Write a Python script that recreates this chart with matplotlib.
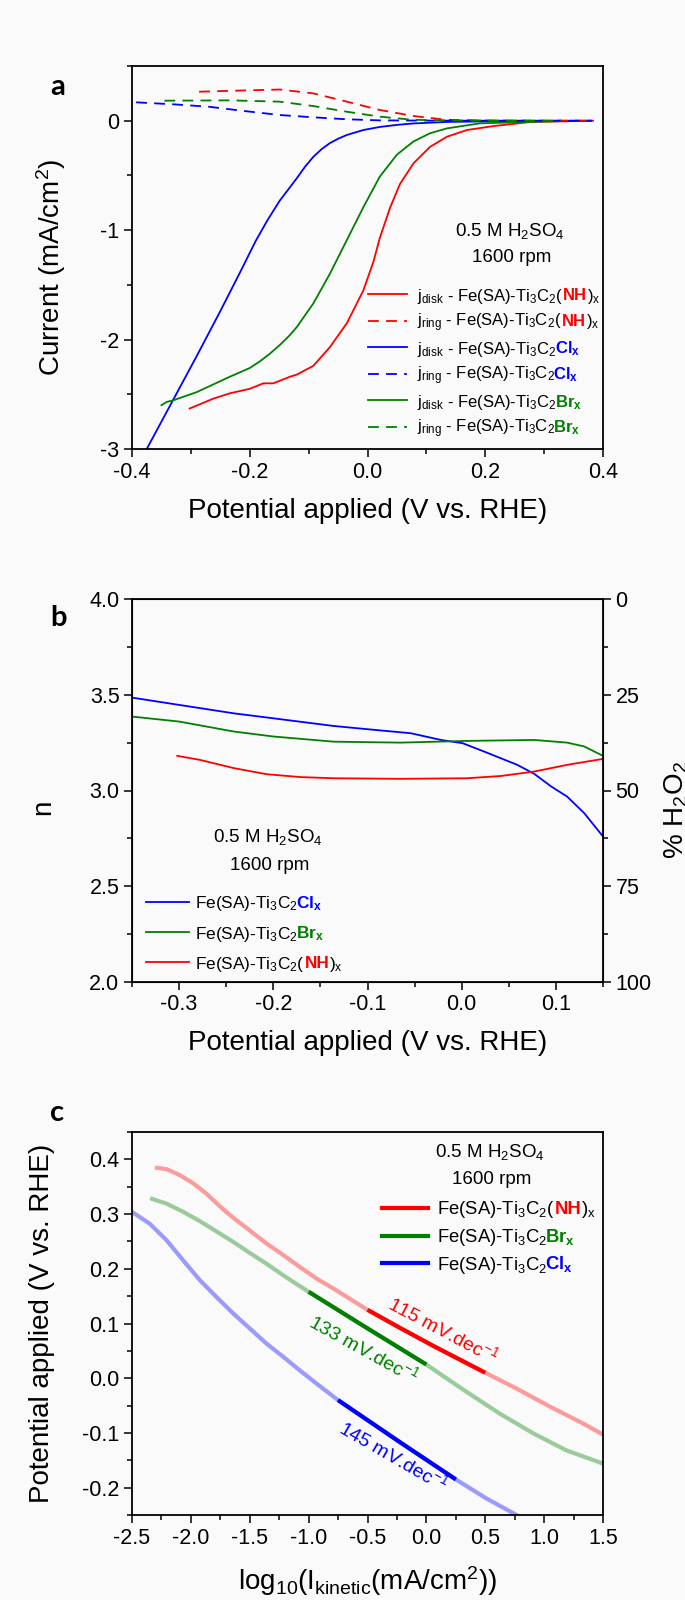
import matplotlib
matplotlib.use('Agg')
import numpy as np
import matplotlib.pyplot as plt
from matplotlib.lines import Line2D
from matplotlib.offsetbox import TextArea, HPacker, AnnotationBbox
from matplotlib.ticker import MultipleLocator, FuncFormatter

plt.rcParams['font.family'] = ['Liberation Sans', 'DejaVu Sans']
plt.rcParams['mathtext.fontset'] = 'custom'
plt.rcParams['mathtext.rm'] = 'Liberation Sans'
plt.rcParams['mathtext.it'] = 'Liberation Sans:italic'
plt.rcParams['mathtext.bf'] = 'Liberation Sans:bold'
plt.rcParams['axes.unicode_minus'] = False

RED = '#ff0000'
GREEN = '#008000'
BLUE = '#0000ff'

# (a) RRDE sweeps: disk and ring current vs potential (V vs RHE, mA/cm2)
nh_disk_v = [-0.302, -0.262, -0.233, -0.200, -0.177, -0.160, -0.132, -0.120, -0.092, -0.064, -0.035,
             -0.007, 0.010, 0.021, 0.038, 0.055, 0.078, 0.106, 0.135, 0.169, 0.214, 0.276, 0.383]
nh_disk_j = [-2.63, -2.54, -2.49, -2.45, -2.40, -2.40, -2.34, -2.32, -2.24, -2.07, -1.85,
             -1.55, -1.29, -1.07, -0.80, -0.58, -0.39, -0.24, -0.146, -0.085, -0.049, -0.012, 0.0]
br_disk_v = [-0.350, -0.341, -0.330, -0.290, -0.234, -0.200, -0.183, -0.166, -0.149, -0.132, -0.120,
             -0.092, -0.064, -0.035, -0.007, 0.021, 0.050, 0.078, 0.106, 0.135, 0.191, 0.330]
br_disk_j = [-2.60, -2.57, -2.555, -2.48, -2.34, -2.26, -2.20, -2.13, -2.05, -1.96, -1.885,
             -1.67, -1.40, -1.09, -0.79, -0.51, -0.31, -0.19, -0.115, -0.07, -0.024, -0.003]
cl_disk_v = [-0.375, -0.330, -0.290, -0.250, -0.215, -0.190, -0.170, -0.149, -0.132, -0.120,
             -0.106, -0.092, -0.078, -0.064, -0.050, -0.035, -0.007, 0.021, 0.050, 0.078,
             0.135, 0.250, 0.380]
cl_disk_j = [-3.00, -2.55, -2.15, -1.74, -1.37, -1.10, -0.91, -0.73, -0.61, -0.525,
             -0.42, -0.33, -0.26, -0.205, -0.165, -0.13, -0.085, -0.057, -0.038, -0.025,
             -0.011, -0.003, 0.0]

nh_ring_v = [-0.286, -0.200, -0.149, -0.092, -0.035, 0.021, 0.078, 0.135, 0.200, 0.383]
nh_ring_j = [0.265, 0.278, 0.285, 0.250, 0.174, 0.098, 0.043, 0.008, 0.002, 0.0]
br_ring_v = [-0.345, -0.234, -0.149, -0.092, -0.035, 0.021, 0.078, 0.150, 0.330]
br_ring_j = [0.183, 0.186, 0.174, 0.134, 0.082, 0.037, 0.008, 0.002, 0.0]
cl_ring_v = [-0.393, -0.330, -0.270, -0.213, -0.149, -0.092, -0.035, 0.021, 0.150, 0.380]
cl_ring_j = [0.168, 0.150, 0.128, 0.091, 0.052, 0.031, 0.013, 0.003, 0.0, 0.0]

# (b) electron transfer number n
cl_n_v = [-0.350, -0.300, -0.242, -0.200, -0.136, -0.100, -0.054, -0.022, 0.001, 0.024,
          0.059, 0.077, 0.095, 0.112, 0.130, 0.150]
cl_n = [3.485, 3.447, 3.403, 3.377, 3.337, 3.320, 3.299, 3.264, 3.247, 3.203,
        3.134, 3.087, 3.021, 2.968, 2.882, 2.760]
br_n_v = [-0.350, -0.300, -0.242, -0.200, -0.136, -0.065, 0.006, 0.077, 0.112, 0.130, 0.150]
br_n = [3.386, 3.360, 3.308, 3.282, 3.255, 3.250, 3.259, 3.264, 3.250, 3.230, 3.181]
nh_n_v = [-0.302, -0.278, -0.242, -0.207, -0.171, -0.136, -0.065, 0.006, 0.042, 0.077, 0.112, 0.150]
nh_n = [3.181, 3.160, 3.117, 3.085, 3.070, 3.064, 3.061, 3.064, 3.076, 3.099, 3.134, 3.165]

# (c) Tafel plots: log10(I_kinetic) vs potential
nh_tafel_x = [-2.305, -2.206, -2.092, -1.979, -1.866, -1.753, -1.639, -1.500, -1.356, -1.215, -1.073,
              -0.932, -0.790, -0.649, -0.500, -0.224, 0.059, 0.500, 0.767, 1.050, 1.333, 1.500]
nh_tafel_y = [0.385, 0.382, 0.371, 0.356, 0.337, 0.314, 0.293, 0.270, 0.246, 0.225, 0.203,
              0.182, 0.164, 0.145, 0.125, 0.092, 0.059, 0.010, -0.019, -0.052, -0.083, -0.103]
br_tafel_x = [-2.347, -2.206, -2.064, -1.923, -1.781, -1.639, -1.500, -1.356, -1.215, -1.073,
              -1.000, -0.507, 0.000, 0.170, 0.342, 0.625, 0.910, 1.190, 1.500]
br_tafel_y = [0.329, 0.319, 0.304, 0.287, 0.268, 0.249, 0.229, 0.209, 0.188, 0.168,
              0.158, 0.092, 0.025, 0.000, -0.025, -0.065, -0.101, -0.132, -0.156]
cl_tafel_x = [-2.500, -2.347, -2.206, -2.064, -1.923, -1.781, -1.639, -1.500, -1.356, -1.215,
              -1.073, -0.932, -0.750, -0.224, 0.250, 0.512, 0.800]
cl_tafel_y = [0.304, 0.282, 0.252, 0.215, 0.179, 0.148, 0.118, 0.091, 0.063, 0.039,
              0.014, -0.010, -0.040, -0.117, -0.185, -0.220, -0.254]

# fitted Tafel windows (log10 I) and slopes in mV/dec
fit_windows = {'nh': (-0.5, 0.5), 'br': (-1.0, 0.0), 'cl': (-0.75, 0.25)}
tafel_slopes = {'nh': 115, 'br': 133, 'cl': 145}

W, H = 685, 1600
fig = plt.figure(figsize=(W / 100, H / 100), dpi=100, facecolor='#fafafa')


def fxy(px, py):
    return px / W, 1 - py / H


def panel(top, bottom):
    ax = fig.add_axes([132 / W, 1 - bottom / H, 471 / W, (bottom - top) / H])
    ax.set_facecolor('#fafafa')
    for s in ax.spines.values():
        s.set_linewidth(1.3)
    ax.tick_params(which='both', direction='out', labelsize=15.5, width=1.1, pad=3,
                   top=False, right=False)
    ax.tick_params(which='major', length=6)
    ax.tick_params(which='minor', length=3.5)
    return ax


def fmt(decimals):
    def f(v, pos):
        s = f'{v:.{decimals}f}'
        return s[1:] if s.startswith('-') and float(s) == 0 else s
    return FuncFormatter(f)


def rich_row(px, py, head, tail, size):
    # head in black, tail carries the coloured bold group
    def pack(pieces, sep):
        boxes = [TextArea(s, textprops=dict(fontsize=size, color=c, fontweight=w)) for s, c, w in pieces]
        return HPacker(children=boxes, align='baseline', pad=0, sep=sep)
    join = 0 if head[-1][0].endswith('(') else -1.2
    row = HPacker(children=[pack(head, 0), pack(tail, 0)], align='baseline', pad=0, sep=join)
    fig.add_artist(AnnotationBbox(row, fxy(px, py), xycoords='figure fraction',
                                  box_alignment=(0, 0.5), frameon=False, pad=0))


def key_line(x0, x1, py, color, ls='-', lw=1.3):
    (a, y), (b, _) = fxy(x0, py), fxy(x1, py)
    ln = Line2D([a, b], [y, y], transform=fig.transFigure, color=color, lw=lw, ls=ls)
    if ls == '--':
        ln.set_dashes((6, 4))
    fig.add_artist(ln)


def tail(label, color):
    if label == 'nh':
        return [('NH', color, 'bold'), (r')$_\mathrm{x}$', 'black', 'normal')]
    name = 'Cl' if label == 'cl' else 'Br'
    return [(name + r'$_\mathbf{x}$', color, 'bold')]


def head(label, prefix=''):
    s = prefix + r'Fe(SA)-Ti$_3$C$_2$' + ('(' if label == 'nh' else '')
    return [(s, 'black', 'normal')]


XLABEL = 'Potential applied (V vs. RHE)'

# ---------------- (a)
ax = panel(66, 449)
for v, j, c in [(nh_disk_v, nh_disk_j, RED), (cl_disk_v, cl_disk_j, BLUE), (br_disk_v, br_disk_j, GREEN)]:
    ax.plot(v, j, color=c, lw=1.3)
for v, j, c in [(nh_ring_v, nh_ring_j, RED), (cl_ring_v, cl_ring_j, BLUE), (br_ring_v, br_ring_j, GREEN)]:
    ax.plot(v, j, color=c, lw=1.3, dashes=(6, 4))
ax.set_xlim(-0.4, 0.4)
ax.set_ylim(-3, 0.5)
ax.xaxis.set_major_locator(MultipleLocator(0.2))
ax.xaxis.set_minor_locator(MultipleLocator(0.1))
ax.yaxis.set_major_locator(MultipleLocator(1))
ax.yaxis.set_minor_locator(MultipleLocator(0.5))
ax.xaxis.set_major_formatter(fmt(1))
ax.yaxis.set_major_formatter(fmt(0))
ax.set_xlabel(XLABEL, fontsize=20)
ax.set_ylabel('Current (mA/cm$^2$)', fontsize=20)
ax.xaxis.set_label_coords(0.5, -0.127)
ax.yaxis.set_label_coords(-0.135, 0.473)

fig.text(*fxy(510, 231), '0.5 M H$_2$SO$_4$', fontsize=13.5, ha='center', va='center')
fig.text(*fxy(512, 258), '1600 rpm', fontsize=13.5, ha='center', va='center')
rows_a = [('nh', RED, '-', 'disk'), ('nh', RED, '--', 'ring'),
          ('cl', BLUE, '-', 'disk'), ('cl', BLUE, '--', 'ring'),
          ('br', GREEN, '-', 'disk'), ('br', GREEN, '--', 'ring')]
for i, (lab, c, ls, elec) in enumerate(rows_a):
    py = 294 + i * 26.6
    key_line(368, 407, py, c, ls)
    rich_row(417, py + 2, head(lab, r'j$_\mathrm{' + elec + r'}$ - '), tail(lab, c), 12)

# ---------------- (b)
axb = panel(599, 982)
for v, n, c in [(cl_n_v, cl_n, BLUE), (br_n_v, br_n, GREEN), (nh_n_v, nh_n, RED)]:
    axb.plot(v, n, color=c, lw=1.3)
axb.set_xlim(-0.35, 0.15)
axb.set_ylim(2.0, 4.0)
axb.xaxis.set_major_locator(MultipleLocator(0.1))
axb.xaxis.set_minor_locator(MultipleLocator(0.05))
axb.yaxis.set_major_locator(MultipleLocator(0.5))
axb.yaxis.set_minor_locator(MultipleLocator(0.25))
axb.xaxis.set_major_formatter(fmt(1))
axb.yaxis.set_major_formatter(fmt(1))
axb.set_xlabel(XLABEL, fontsize=20)
axb.set_ylabel('n', fontsize=20)
axb.xaxis.set_label_coords(0.5, -0.125)
axb.yaxis.set_label_coords(-0.16, 0.455)

# % H2O2 = (4 - n) / 2 * 100 on the right
ax2 = axb.twinx()
ax2.set_ylim(100, 0)
ax2.yaxis.set_major_locator(MultipleLocator(25))
ax2.yaxis.set_minor_locator(MultipleLocator(12.5))
ax2.tick_params(which='both', direction='out', labelsize=15.5, width=1.1, pad=3)
ax2.tick_params(which='major', length=6)
ax2.tick_params(which='minor', length=3.5)
ax2.set_ylabel('% H$_2$O$_2$', fontsize=20)
ax2.yaxis.set_label_coords(1.127, 0.45)

fig.text(*fxy(268, 837), '0.5 M H$_2$SO$_4$', fontsize=13.5, ha='center', va='center')
fig.text(*fxy(270, 865), '1600 rpm', fontsize=13.5, ha='center', va='center')
for i, (lab, c) in enumerate([('cl', BLUE), ('br', GREEN), ('nh', RED)]):
    py = 902 + i * 30
    key_line(146, 189, py, c)
    rich_row(195, py + 2, head(lab), tail(lab, c), 12.4)

# ---------------- (c)
axc = panel(1132, 1515)
tafel = {'nh': (nh_tafel_x, nh_tafel_y, RED), 'br': (br_tafel_x, br_tafel_y, GREEN),
         'cl': (cl_tafel_x, cl_tafel_y, BLUE)}
for lab, (x, y, c) in tafel.items():
    x = np.asarray(x)
    y = np.asarray(y)
    axc.plot(x, y, color=c, lw=3, alpha=0.38, solid_capstyle='butt')
    lo, hi = fit_windows[lab]
    m = (x >= lo - 1e-9) & (x <= hi + 1e-9)
    axc.plot(x[m], y[m], color=c, lw=3, solid_capstyle='butt')
axc.set_xlim(-2.5, 1.5)
axc.set_ylim(-0.25, 0.45)
axc.xaxis.set_major_locator(MultipleLocator(0.5))
axc.xaxis.set_minor_locator(MultipleLocator(0.25))
axc.yaxis.set_major_locator(MultipleLocator(0.1))
axc.yaxis.set_minor_locator(MultipleLocator(0.05))
axc.xaxis.set_major_formatter(fmt(1))
axc.yaxis.set_major_formatter(fmt(1))
axc.set_xlabel(r'log$_{10}$(I$_\mathrm{kinetic}$(mA/cm$^2$))', fontsize=20)
axc.set_ylabel(XLABEL, fontsize=20)
axc.xaxis.set_label_coords(0.5, -0.128)
axc.yaxis.set_label_coords(-0.163, 0.5)

slope_text = {'nh': (0.144, 0.089, -28), 'br': (-0.536, 0.054, -29), 'cl': (-0.281, -0.142, -30)}
for lab, (tx, ty, rot) in slope_text.items():
    axc.text(tx, ty, f'{tafel_slopes[lab]} mV.dec$^{{-1}}$', color=tafel[lab][2], fontsize=14,
             rotation=rot, rotation_mode='anchor', ha='center', va='center')

fig.text(*fxy(490, 1152), '0.5 M H$_2$SO$_4$', fontsize=13.5, ha='center', va='center')
fig.text(*fxy(492, 1180), '1600 rpm', fontsize=13.5, ha='center', va='center')
for i, (lab, c) in enumerate([('nh', RED), ('br', GREEN), ('cl', BLUE)]):
    py = 1208 + i * 27.5
    key_line(382, 428, py, c, lw=3)
    rich_row(437, py + 2, head(lab), tail(lab, c), 13.3)

# panel letters
for letter, (px, py) in zip('abc', [(58, 87), (59, 618), (57, 1113)]):
    fig.text(*fxy(px, py), letter, fontsize=21, fontweight='bold', family='Lato',
             ha='center', va='center')

fig.savefig('out.png', dpi=100, facecolor=fig.get_facecolor())
